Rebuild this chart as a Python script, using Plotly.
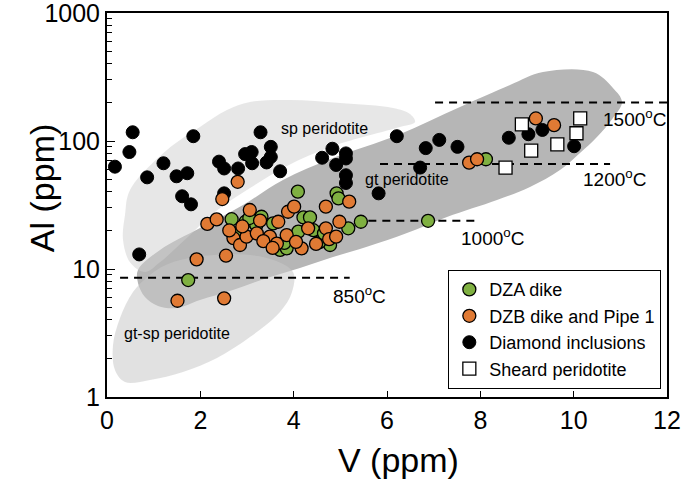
import numpy as np
import plotly.graph_objects as go

# ---------------- data ----------------
dza_v = [1.74, 2.67, 2.97, 3.31, 3.56, 3.71, 3.85, 4.09, 4.21, 4.35, 4.10, 4.42, 4.78, 4.92,
         4.96, 5.17, 5.44, 6.88, 8.12, 3.80, 4.55, 3.20, 4.65, 2.75, 3.05]
dza_al = [8.2, 24.5, 23.4, 25.6, 22.7, 14.1, 14.5, 40.2, 25.3, 25.3, 19.6, 20.1, 15.4, 39.0,
          35.6, 20.8, 23.4, 23.8, 72.0, 16.0, 16.2, 22.0, 19.0, 19.0, 25.0]

dzb_v = [2.15, 2.35, 1.92, 2.55, 1.51, 2.51, 2.47, 2.80, 3.06, 2.71, 2.85, 2.99, 3.28, 3.21,
         3.49, 3.64, 3.67, 3.88, 3.85, 4.01, 4.17, 4.31, 4.48, 4.69, 4.69, 4.76, 4.91, 4.98,
         5.19, 7.76, 7.93, 9.19, 9.58, 2.62, 3.35, 2.90, 4.05, 3.55]
dzb_al = [22.5, 24.4, 11.9, 12.7, 5.65, 5.9, 35.2, 48.0, 28.9, 17.4, 15.4, 17.9, 23.9, 19.0,
          17.9, 15.8, 23.4, 28.0, 18.4, 30.7, 14.5, 20.8, 15.7, 30.7, 20.8, 17.1, 17.9, 23.4,
          33.6, 67.7, 72.0, 150.0, 133.0, 20.0, 16.5, 21.5, 16.3, 14.6]

dia_v = [0.17, 0.48, 0.55, 0.69, 0.86, 1.21, 1.49, 1.61, 1.72, 1.80, 1.85, 2.40, 2.51, 2.51,
         2.81, 2.96, 3.10, 3.11, 3.29, 3.42, 3.51, 3.51, 3.71, 4.61, 4.83, 4.91, 5.12, 5.12,
         5.12, 5.12, 5.82, 6.21, 6.71, 6.83, 7.12, 7.51, 8.61, 9.03, 9.33, 10.01]
dia_al = [63, 82, 117, 13, 52, 67, 53, 37, 56, 32, 109, 69, 61, 39,
          61, 79, 82, 67, 117, 68, 90, 75, 58, 74, 87, 65, 80, 73,
          54, 47, 39, 109, 62, 88, 102, 90, 106, 113, 122, 91]

sheared_v = [8.89, 9.09, 9.65, 10.14, 10.06, 8.54]
sheared_al = [135, 84, 94, 150, 115, 62]

# isotherms: label, V start, V end, Al level
iso_labels = ["1500<sup>o</sup>C", "1200<sup>o</sup>C", "1000<sup>o</sup>C", "850<sup>o</sup>C"]
iso_v0 = [7.03, 5.85, 5.60, 0.28]
iso_v1 = [12.0, 10.78, 7.92, 5.20]
iso_al = [200, 66, 23.8, 8.55]
iso_lab_v = [11.31, 10.88, 8.25, 5.40]
iso_lab_al = [151, 51.4, 17.8, 6.27]

# field outlines (V, Al)
sp_v = [0.386, 0.493, 1.286, 1.993, 2.571, 3.064, 3.921, 4.993, 6.128, 6.492, 6.600, 6.278,
        4.843, 3.857, 3.064, 2.314, 1.671, 1.136, 0.814, 0.493, 0.343]
sp_al = [26.4, 41.4, 85.1, 128.7, 174.7, 201.7, 209, 198, 181, 162.6, 140.8, 128.7,
         91.4, 63.8, 42.9, 27.9, 16.9, 11.3, 9.48, 11.3, 16.9]

gt_v = [0.664, 1.136, 1.993, 2.914, 3.771, 4.843, 6.235, 7.564, 8.635, 9.342, 10.414, 10.842,
        11.035, 10.842, 10.499, 10.135, 9.707, 9.064, 8.357, 7.285, 6.428, 5.571, 4.843, 4.135,
        3.428, 2.700, 1.993, 1.500, 1.093, 0.814, 0.664]
gt_al = [9.82, 14.1, 20.9, 31.6, 49.6, 73.7, 111.4, 184.5, 273.8, 346, 346, 259.4,
         201.7, 151.3, 107.5, 80.6, 59.3, 43.7, 34.6, 25.5, 19.1, 14.9, 12.4, 10.2,
         8.51, 6.86, 5.73, 4.96, 5.14, 6.04, 7.78]

gtsp_v = [0.171, 0.129, 0.279, 0.557, 0.921, 1.350, 2.357, 3.428, 3.985, 3.964, 3.707, 3.064,
          2.357, 1.628, 0.921, 0.386]
gtsp_al = [1.625, 2.55, 4.14, 6.61, 8.98, 11.1, 12.9, 12.2, 9.48, 6.61, 4.61, 2.94,
           2.02, 1.57, 1.36, 1.31]

field_labels = ["sp peridotite", "gt peridotite", "gt-sp peridotite"]
field_lab_v = [4.65, 6.43, 1.50]
field_lab_al = [126, 49.6, 3.16]

x_ticks = [0, 2, 4, 6, 8, 10, 12]
y_ticks = [1, 10, 100, 1000]
y_minor = [m * d for d in (1, 10, 100) for m in range(2, 10)]

# ---------------- figure ----------------
FONT = "Liberation Sans, Arial, sans-serif"
fig = go.Figure()

def closed(a):
    return list(a) + [a[0]]

fig.add_trace(go.Scatter(x=closed(gt_v), y=closed(gt_al), mode="lines", fill="toself",
                         fillcolor="rgb(182,182,182)", line=dict(width=0, shape="spline", smoothing=1.0),
                         hoverinfo="skip", showlegend=False))
fig.add_trace(go.Scatter(x=closed(sp_v), y=closed(sp_al), mode="lines", fill="toself",
                         fillcolor="rgba(208,208,208,0.5)", line=dict(width=0, shape="spline", smoothing=1.0),
                         hoverinfo="skip", showlegend=False))
fig.add_trace(go.Scatter(x=closed(gtsp_v), y=closed(gtsp_al), mode="lines", fill="toself",
                         fillcolor="rgba(200,200,200,0.55)", line=dict(width=0, shape="spline", smoothing=1.0),
                         hoverinfo="skip", showlegend=False))

for v0, v1, al in zip(iso_v0, iso_v1, iso_al):
    fig.add_trace(go.Scatter(x=[v0, v1], y=[al, al], mode="lines",
                             line=dict(color="black", width=2, dash="8px,6px"),
                             hoverinfo="skip", showlegend=False))

mk_line = dict(color="black", width=1.3)
fig.add_trace(go.Scatter(x=dia_v, y=dia_al, mode="markers", name="Diamond inclusions",
                         marker=dict(color="black", size=13, symbol="circle", line=dict(color="black", width=1)),
                         legendrank=3))
fig.add_trace(go.Scatter(x=dza_v, y=dza_al, mode="markers", name="DZA dike",
                         marker=dict(color="#7fb041", size=13, symbol="circle", line=mk_line),
                         legendrank=1))
fig.add_trace(go.Scatter(x=dzb_v, y=dzb_al, mode="markers", name="DZB dike and Pipe 1",
                         marker=dict(color="#e07a34", size=13, symbol="circle", line=mk_line),
                         legendrank=2))
fig.add_trace(go.Scatter(x=sheared_v, y=sheared_al, mode="markers", name="Sheard peridotite",
                         marker=dict(color="white", size=13, symbol="square", line=mk_line),
                         legendrank=4))

for t, v, al in zip(iso_labels, iso_lab_v, iso_lab_al):
    fig.add_annotation(x=v, y=np.log10(al), text=t, showarrow=False,
                       font=dict(family=FONT, size=19, color="black"))
for t, v, al in zip(field_labels, field_lab_v, field_lab_al):
    fig.add_annotation(x=v, y=np.log10(al), text=t, showarrow=False,
                       font=dict(family=FONT, size=16, color="black"))

# axis titles
fig.add_annotation(xref="paper", yref="paper", x=0.521, y=-0.164, text="V (ppm)", showarrow=False,
                   xanchor="center", yanchor="middle",
                   font=dict(family=FONT, size=34, color="black"))
fig.add_annotation(xref="paper", yref="paper", x=-0.116, y=0.544, text="Al (ppm)", showarrow=False,
                   xanchor="center", yanchor="middle",
                   textangle=-90, font=dict(family=FONT, size=34, color="black"))

fig.update_xaxes(range=[0, 12], tickmode="array", tickvals=x_ticks, ticktext=[str(v) for v in x_ticks],
                 ticks="inside", ticklen=6, tickwidth=1.3, tickcolor="black",
                 showline=True, linecolor="black", linewidth=2, mirror=True,
                 showgrid=False, zeroline=False, automargin=False, ticklabeloverflow="allow",
                 tickfont=dict(family=FONT, size=25, color="black"))
fig.update_yaxes(type="log", range=[0, 3], tickmode="array", tickvals=y_ticks,
                 ticktext=[str(v) for v in y_ticks],
                 ticks="inside", ticklen=8, tickwidth=1.3, tickcolor="black",
                 minor=dict(ticks="inside", ticklen=5, tickwidth=1.3, tickcolor="black",
                            tickmode="array", tickvals=y_minor, showgrid=False),
                 showline=True, linecolor="black", linewidth=2, mirror=True,
                 showgrid=False, zeroline=False, automargin=False, ticklabeloverflow="allow",
                 tickfont=dict(family=FONT, size=25, color="black"))

fig.update_layout(width=685, height=487, margin=dict(l=107, r=18, t=13, b=90, autoexpand=False),
                  plot_bgcolor="white", paper_bgcolor="white",
                  font=dict(family=FONT, color="black"),
                  legend=dict(x=0.609, y=0.331, xanchor="left", yanchor="top",
                              bgcolor="white", bordercolor="black", borderwidth=1.3,
                              font=dict(family=FONT, size=18, color="black"),
                              tracegroupgap=0, itemwidth=30))

# remove the default 8px page margin so the figure sits at the window's corner
fig.write_html("out.html", config={"displayModeBar": False},
               post_script="document.body.style.margin='0';document.body.style.overflow='hidden';")
